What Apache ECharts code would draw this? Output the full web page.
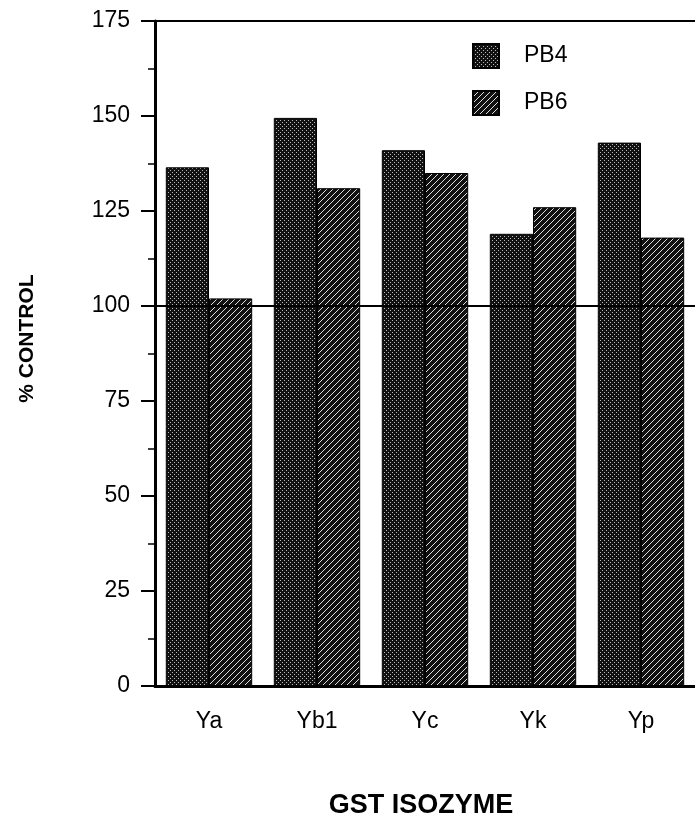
<!DOCTYPE html>
<html>
<head>
<meta charset="utf-8">
<title>GST isozyme</title>
<script src="https://cdn.jsdelivr.net/npm/echarts@6/dist/echarts.min.js"></script>
<style>
  html, body { margin: 0; padding: 0; background: #fff; }
  #main { width: 695px; height: 819px; }
</style>
</head>
<body>
<div id="main"></div>
<script>
// 数据
const categories = ['Ya', 'Yb1', 'Yc', 'Yk', 'Yp']
const pb4 = [136.5, 149.5, 141, 119, 143]
const pb6 = [102, 131, 135, 126, 118]
const yTicks = [0, 25, 50, 75, 100, 125, 150, 175]

// 网点和斜线的填充
function dotPattern() {
  const c = document.createElement('canvas')
  c.width = 4
  c.height = 4
  const ctx = c.getContext('2d')
  ctx.fillStyle = '#111'
  ctx.fillRect(0, 0, 4, 4)
  ctx.fillStyle = '#bbb'
  ctx.fillRect(0, 0, 1, 1)
  ctx.fillRect(2, 2, 1, 1)
  return c
}
function hatchPattern() {
  const n = 6
  const c = document.createElement('canvas')
  c.width = n
  c.height = n
  const ctx = c.getContext('2d')
  ctx.fillStyle = '#111'
  ctx.fillRect(0, 0, n, n)
  ctx.fillStyle = '#ddd'
  for (let i = 0; i < n; i++) ctx.fillRect(i, n - 1 - i, 1, 1)
  return c
}

const font = 'Liberation Sans, Arial, sans-serif'
const myChart = echarts.init(document.getElementById('main'))

const option = {
  backgroundColor: '#fff',
  animation: false,
  textStyle: { fontFamily: font, color: '#000' },
  grid: { left: 155, right: 0, top: 21, bottom: 133, outerBoundsMode: 'none' },
  legend: {
    orient: 'vertical',
    left: 472,
    top: 43,
    padding: 0,
    itemWidth: 26,
    itemHeight: 24,
    itemGap: 21,
    icon: 'rect',
    textStyle: { fontSize: 23, color: '#000', padding: [0, 0, 0, 20] },
    data: ['PB4', 'PB6']
  },
  xAxis: [
    {
      type: 'category',
      data: categories,
      name: 'GST ISOZYME',
      nameLocation: 'middle',
      nameGap: 106,
      nameTextStyle: { fontSize: 27, fontWeight: 'bold', color: '#000', padding: [0, 8, 0, 0] },
      axisLine: { lineStyle: { color: '#000', width: 3 } },
      axisTick: { length: 5, lineStyle: { color: '#000', width: 2 } },
      axisLabel: { fontSize: 23, color: '#000', margin: 24 }
    },
    {
      type: 'category',
      data: categories,
      position: 'top',
      axisLine: { lineStyle: { color: '#000', width: 2 } },
      axisTick: { show: false },
      axisLabel: { show: false }
    }
  ],
  yAxis: {
    type: 'value',
    min: yTicks[0],
    max: yTicks[yTicks.length - 1],
    interval: 25,
    name: '% CONTROL',
    nameLocation: 'middle',
    nameRotate: 90,
    nameGap: 117,
    nameTextStyle: { fontSize: 21, fontWeight: 'bold', color: '#000', padding: [0, 0, 0, 30] },
    axisLine: { show: true, lineStyle: { color: '#000', width: 3 } },
    axisTick: { show: true, length: 14, lineStyle: { color: '#000', width: 2 } },
    minorTick: { show: true, splitNumber: 2, length: 7, lineStyle: { color: '#000', width: 1.5 } },
    splitLine: { show: false },
    axisLabel: { fontSize: 23, color: '#000', margin: 25 }
  },
  series: [
    {
      name: 'PB4',
      type: 'bar',
      data: pb4,
      barWidth: '40%',
      barGap: '0%',
      itemStyle: {
        color: { image: dotPattern(), repeat: 'repeat' },
        borderColor: '#000',
        borderWidth: 1
      }
    },
    {
      name: 'PB6',
      type: 'bar',
      data: pb6,
      barWidth: '40%',
      barGap: '0%',
      itemStyle: {
        color: { image: hatchPattern(), repeat: 'repeat' },
        borderColor: '#000',
        borderWidth: 1
      },
      markLine: {
        silent: true,
        symbol: 'none',
        label: { show: false },
        lineStyle: { color: '#000', width: 2, type: 'solid' },
        data: [{ yAxis: 100 }]
      }
    }
  ]
}

myChart.setOption(option)
</script>
</body>
</html>
